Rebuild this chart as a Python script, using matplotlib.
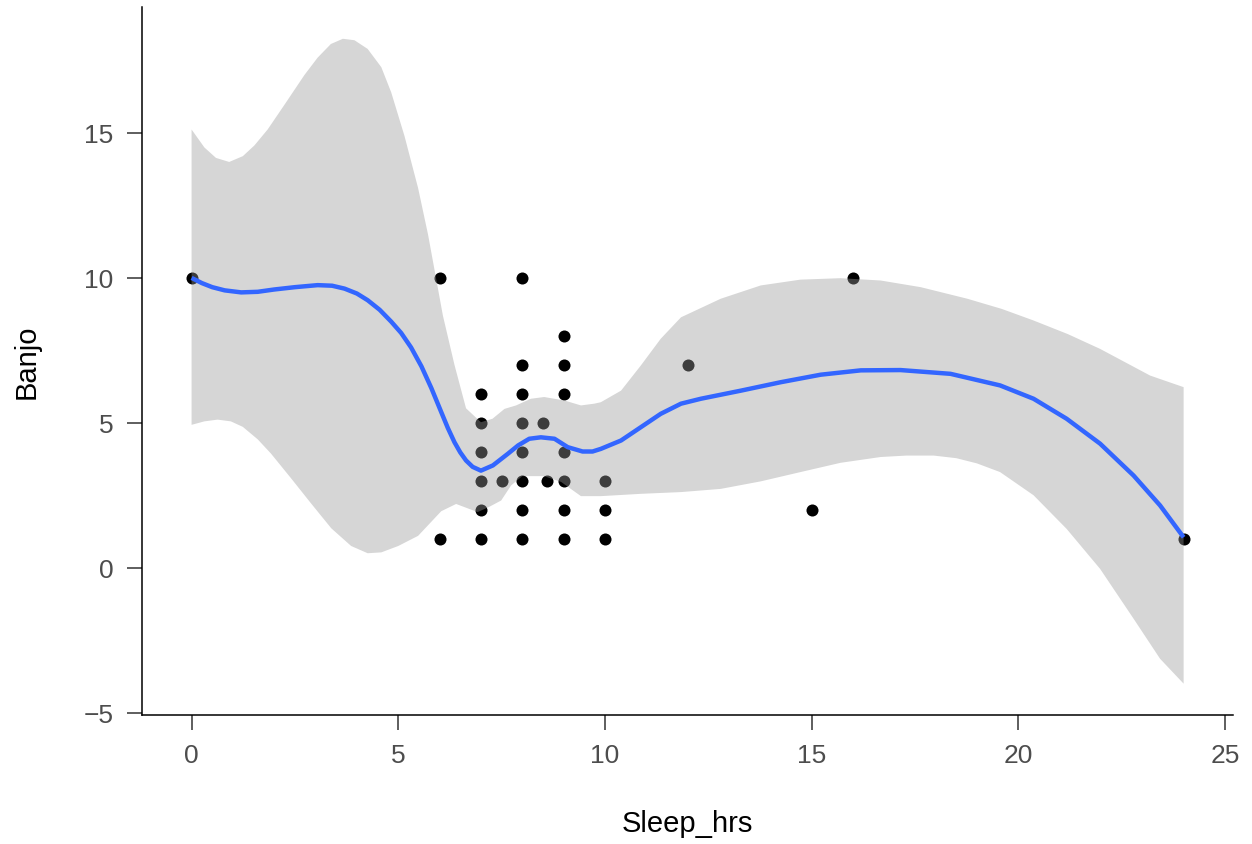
import numpy as np
import matplotlib
matplotlib.use("Agg")
import matplotlib.pyplot as plt

plt.rcParams['font.family'] = ['Liberation Sans', 'DejaVu Sans']

# observed points
sleep_hrs = [0, 6, 6, 7, 7, 7, 7, 7, 7, 7.5,
             8, 8, 8, 8, 8, 8, 8, 8, 8.5, 8.6,
             9, 9, 9, 9, 9, 9, 9, 10, 10, 10,
             12, 15, 16, 24]
banjo = [10, 10, 1, 6, 5, 4, 3, 2, 1, 3,
         10, 7, 6, 5, 4, 3, 2, 1, 5, 3,
         8, 7, 6, 4, 3, 2, 1, 3, 2, 1,
         7, 2, 10, 1]

# smoother fit
fit_x = [0, 0.25, 0.5, 0.8, 1.2, 1.6, 2, 2.5, 3.05, 3.4, 3.7, 4.0, 4.26, 4.55, 4.83,
         5.07, 5.31, 5.56, 5.8, 6.04, 6.2, 6.36, 6.5, 6.64, 6.8, 7.0, 7.29, 7.65,
         7.9, 8.17, 8.45, 8.78, 9.1, 9.46, 9.7, 9.9, 10.39,
         10.87, 11.35, 11.84, 12.32, 13.29, 14.25, 15.22, 16.19, 17.15, 18.36,
         19.56, 20.37, 21.17, 21.98, 22.79, 23.43, 24]
fit_y = [10.0, 9.82, 9.68, 9.57, 9.5, 9.52, 9.6, 9.68, 9.75, 9.73, 9.63, 9.46, 9.23, 8.9, 8.49,
         8.1, 7.6, 6.95, 6.2, 5.37, 4.82, 4.33, 3.98, 3.7, 3.48, 3.35, 3.53, 3.93,
         4.22, 4.45, 4.5, 4.45, 4.16, 4.01, 4.01, 4.10, 4.39,
         4.85, 5.31, 5.66, 5.83, 6.11, 6.4, 6.66, 6.81, 6.82, 6.69,
         6.29, 5.83, 5.14, 4.28, 3.18, 2.15, 1.05]

# confidence band edges
upper_x = [0, 0.31, 0.59, 0.91, 1.24, 1.52, 1.84, 2.25, 2.73, 3.05, 3.37, 3.66, 3.94,
           4.26, 4.59, 4.83, 5.15, 5.48, 5.72, 5.9, 6.08, 6.36, 6.64, 7.0, 7.28,
           7.57, 7.85, 8.21, 8.53, 9.02, 9.42, 9.74, 9.9, 10.39, 10.87, 11.35,
           11.84, 12.8, 13.77, 14.73, 15.7, 16.67, 17.64, 18.77, 19.6, 20.37, 21.2,
           21.98, 23.19, 24]
upper_y = [15.12, 14.5, 14.14, 14.0, 14.2, 14.57, 15.12, 15.98, 17.0, 17.6, 18.07, 18.25, 18.2,
           17.9, 17.27, 16.4, 14.9, 13.1, 11.5, 10.1, 8.7, 7.0, 5.5, 5.02, 5.14,
           5.48, 5.6, 5.83, 5.89, 5.77, 5.6, 5.66, 5.71, 6.11, 6.98, 7.9,
           8.64, 9.28, 9.74, 9.94, 9.99, 9.91, 9.68, 9.28, 8.93, 8.53, 8.06,
           7.55, 6.63, 6.23]
lower_x = [0, 0.31, 0.63, 0.95, 1.24, 1.6, 1.92, 2.41, 2.89, 3.38, 3.86, 4.26, 4.59,
           5.0, 5.48, 6.04, 6.4, 6.92, 7.2, 7.49, 7.73, 8.0, 8.53, 8.94, 9.42, 9.9,
           10.87, 11.84, 12.8, 13.77, 14.73, 15.7, 16.67, 17.3, 17.95, 18.5, 19.0, 19.56,
           20.37, 21.17, 21.98, 22.79, 23.43, 24]
lower_y = [4.93, 5.05, 5.11, 5.05, 4.86, 4.43, 3.94, 3.08, 2.22, 1.36, 0.75, 0.5, 0.53,
           0.75, 1.1, 1.95, 2.2, 1.92, 2.1, 2.32, 2.84, 3.16, 3.16, 2.96, 2.47, 2.47,
           2.55, 2.61, 2.72, 2.98, 3.3, 3.62, 3.82, 3.87, 3.87, 3.78, 3.6, 3.3,
           2.5, 1.34, -0.04, -1.76, -3.14, -4.0]

x_ticks = [0, 5, 10, 15, 20, 25]
y_ticks = [-5, 0, 5, 10, 15]

fig = plt.figure(figsize=(12.52, 8.45), dpi=100)
ax = fig.add_axes([0.1134, 0.1527, 0.8716, 0.8383])

ax.scatter(sleep_hrs, banjo, s=75, color='black', linewidths=0, zorder=2)
band_x = np.concatenate([upper_x, lower_x[::-1]])
band_y = np.concatenate([upper_y, lower_y[::-1]])
ax.fill(band_x, band_y, color='#999999', alpha=0.4, linewidth=0, zorder=3)
ax.plot(fit_x, fit_y, color='#3366FF', linewidth=3.2, zorder=4,
        solid_capstyle='butt', solid_joinstyle='round')

ax.set_xlim(-1.2, 25.2)
ax.set_ylim(-5.08, 19.36)
ax.set_xticks(x_ticks)
ax.set_yticks(y_ticks)
ax.set_yticklabels(['\u22125' if t < 0 else str(t) for t in y_ticks])

for s in ['top', 'right']:
    ax.spines[s].set_visible(False)
for s in ['left', 'bottom']:
    ax.spines[s].set_linewidth(1.1)
    ax.spines[s].set_color('black')

ax.tick_params(axis='both', length=10.5, width=1.1, color='#333333',
               labelsize=19, labelcolor='#4D4D4D', pad=10)

ax.set_xlabel('Sleep_hrs', fontsize=21, labelpad=30)
ax.set_ylabel('Banjo', fontsize=21, labelpad=31)

fig.savefig('out.png', dpi=100)
